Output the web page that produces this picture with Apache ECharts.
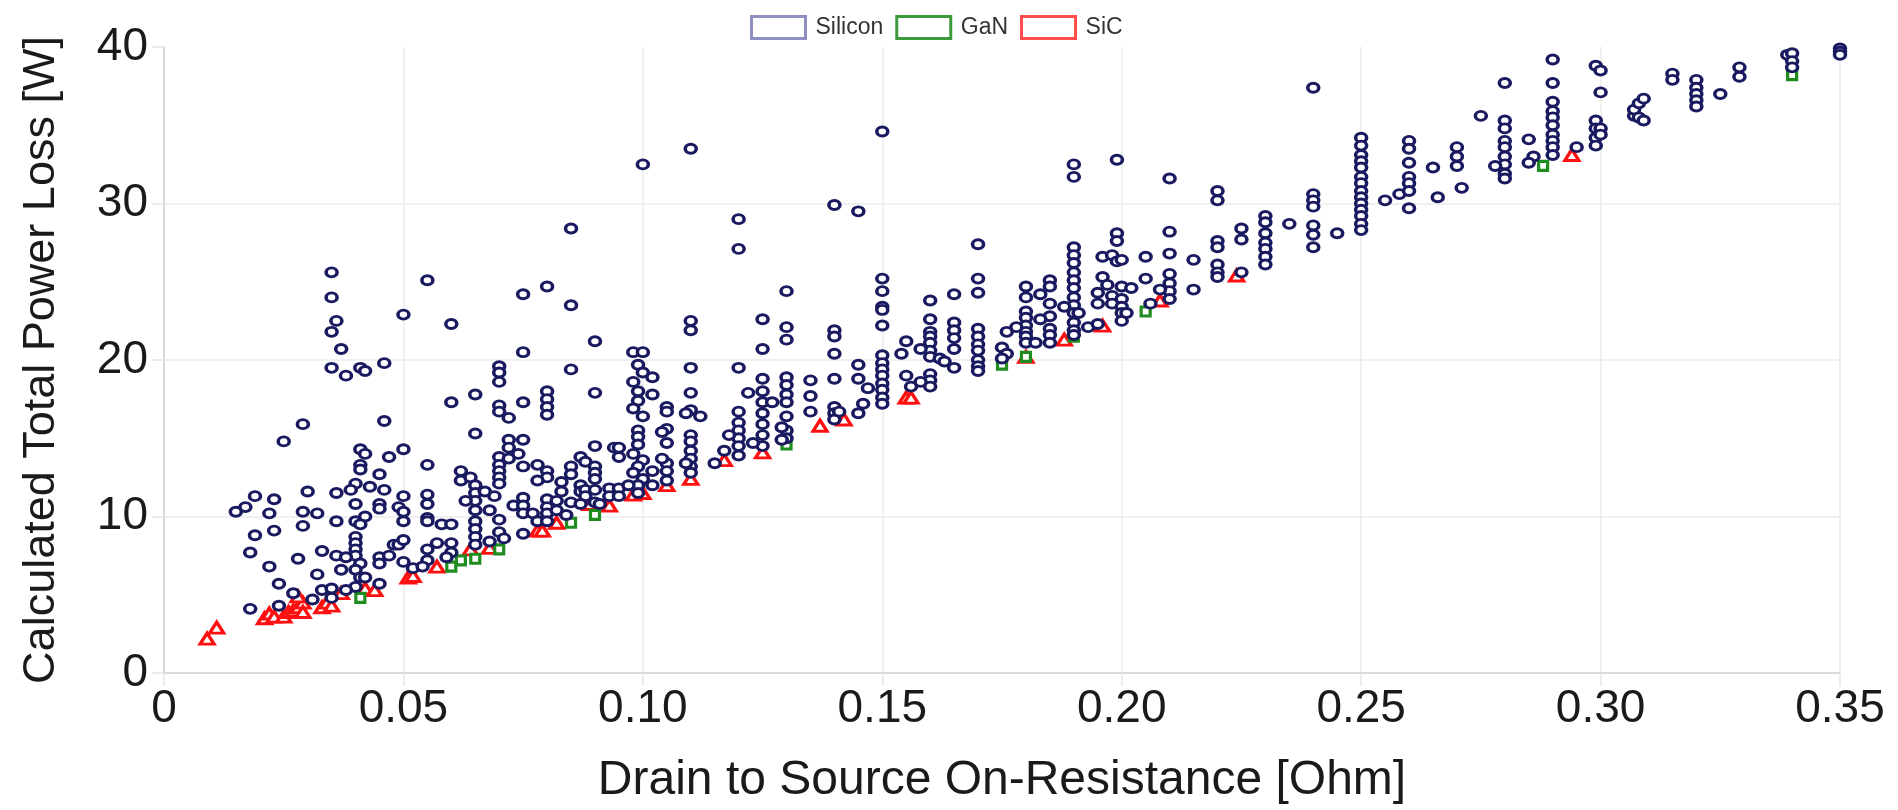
<!DOCTYPE html>
<html>
<head>
<meta charset="utf-8">
<title>Calculated Total Power Loss vs On-Resistance</title>
<script src="https://cdn.jsdelivr.net/npm/echarts@6/dist/echarts.min.js"></script>
<style>
    html, body { margin: 0; padding: 0; background: #fff; }
    #main { width: 1898px; height: 810px; }
</style>
</head>
<body>
<div id="main"></div>
<script>
// axis ticks
var xTickLabels = ['0', '0.05', '0.10', '0.15', '0.20', '0.25', '0.30', '0.35'];
var yTickLabels = ['0', '10', '20', '30', '40'];
var seriesNames = ['Silicon', 'GaN', 'SiC'];

// [Rds(on) in Ohm, power loss in W]
var siliconPoints = [
    // 0 - 0.05
    [0.035,25.6],[0.035,24.0],[0.036,22.5],[0.035,21.8],[0.037,20.7],[0.035,19.5],[0.038,19.0],[0.041,19.5],[0.042,19.3],[0.046,19.8],
    [0.029,15.9],[0.025,14.8],[0.046,16.1],[0.041,14.3],[0.042,14.0],[0.041,13.3],[0.041,13.0],[0.047,13.8],
    [0.045,12.7],[0.040,12.1],[0.043,11.9],[0.046,11.7],[0.039,11.7],[0.036,11.5],[0.030,11.6],[0.040,10.8],[0.045,10.8],[0.045,10.5],[0.049,10.6],
    [0.019,11.3],[0.017,10.6],[0.015,10.3],[0.023,11.1],[0.022,10.2],[0.029,10.3],[0.032,10.2],[0.029,9.4],[0.036,9.7],[0.040,9.7],[0.042,10.0],[0.041,9.5],
    [0.019,8.8],[0.023,9.1],[0.018,7.7],[0.022,6.8],[0.028,7.3],[0.033,7.8],[0.036,7.5],
    [0.040,8.7],[0.040,8.3],[0.040,7.9],[0.040,7.5],[0.041,7.0],[0.040,6.6],[0.041,6.1],[0.040,5.5],
    [0.038,7.4],[0.037,6.6],[0.032,6.3],[0.024,5.7],[0.027,5.1],[0.033,5.3],[0.035,4.8],[0.035,5.4],[0.031,4.7],[0.024,4.3],[0.018,4.1],
    [0.045,7.4],[0.045,7.0],[0.047,7.5],[0.048,8.2],[0.049,8.2],[0.045,5.7],[0.042,6.1],[0.038,5.3],
    // 0.05 - 0.10
    [0.085,28.4],[0.055,25.1],[0.050,22.9],[0.060,22.3],[0.075,24.2],[0.080,24.7],[0.085,23.5],[0.090,21.2],[0.075,20.5],
    [0.070,19.6],[0.070,19.2],[0.070,18.6],[0.085,19.4],[0.065,17.8],[0.060,17.3],[0.075,17.3],[0.070,17.1],[0.070,16.7],[0.072,16.3],
    [0.080,18.0],[0.080,17.5],[0.080,17.0],[0.080,16.5],[0.090,17.9],[0.065,15.3],[0.050,14.3],[0.055,13.3],
    [0.072,14.9],[0.075,14.9],[0.072,14.4],[0.070,13.8],[0.074,14.0],[0.072,13.7],[0.070,13.3],[0.070,12.9],[0.070,12.5],[0.070,12.1],
    [0.075,13.2],[0.078,13.3],[0.080,12.9],[0.080,12.5],[0.078,12.3],[0.085,13.2],[0.085,12.7],[0.087,13.8],[0.088,13.5],
    [0.090,14.5],[0.090,13.2],[0.090,12.8],[0.090,12.4],[0.094,14.4],[0.095,13.8],[0.095,14.4],[0.083,12.2],[0.083,11.6],[0.087,12.0],[0.087,11.6],
    [0.062,12.9],[0.062,12.3],[0.064,12.5],[0.065,12.0],[0.065,11.5],[0.065,11.0],[0.065,10.4],[0.065,9.7],[0.065,9.2],[0.065,8.7],[0.065,8.2],
    [0.063,11.0],[0.067,11.6],[0.068,10.4],[0.069,11.3],[0.070,9.8],[0.070,9.0],[0.071,8.6],[0.068,8.4],[0.073,10.7],
    [0.075,11.2],[0.075,10.7],[0.075,10.2],[0.075,8.9],[0.077,10.2],[0.078,9.7],[0.080,11.1],[0.080,10.6],[0.080,10.2],[0.080,9.7],
    [0.082,11.0],[0.082,10.4],[0.084,10.1],[0.085,10.9],[0.088,11.7],[0.088,11.3],[0.087,10.8],[0.090,10.9],[0.090,11.7],[0.091,10.8],
    [0.093,11.8],[0.093,11.3],[0.095,11.8],[0.095,11.3],
    [0.098,20.5],[0.100,20.5],[0.099,19.7],[0.098,18.6],[0.100,19.2],[0.099,18.0],[0.099,17.4],[0.098,16.9],[0.100,16.4],[0.099,15.5],
    [0.099,15.1],[0.099,14.6],[0.098,14.0],[0.100,13.6],[0.099,13.2],[0.098,12.8],[0.100,12.4],[0.099,12.0],[0.097,12.0],[0.099,11.5],
    [0.050,11.3],[0.050,10.3],[0.055,11.4],[0.055,10.8],[0.055,9.9],[0.055,9.7],[0.058,9.5],[0.060,9.5],[0.050,9.7],[0.050,8.5],
    [0.055,7.9],[0.057,8.3],[0.060,8.3],[0.060,7.7],[0.059,7.4],[0.055,7.2],[0.050,7.1],[0.052,6.7],[0.054,6.8],
    // 0.10 - 0.15
    [0.100,32.5],[0.110,33.5],[0.150,34.6],[0.140,29.9],[0.145,29.5],[0.120,29.0],[0.120,27.1],[0.130,24.4],
    [0.150,25.2],[0.150,24.4],[0.150,23.4],[0.150,23.2],[0.150,22.2],[0.110,22.5],[0.110,21.9],[0.125,22.6],[0.130,22.1],[0.130,21.3],
    [0.140,21.9],[0.140,21.5],[0.140,20.4],[0.125,20.7],
    [0.102,18.9],[0.102,17.8],[0.110,19.5],[0.110,17.9],[0.120,19.5],[0.145,19.7],[0.145,18.8],[0.147,18.2],
    [0.150,20.3],[0.150,19.8],[0.150,19.4],[0.150,19.0],[0.150,18.5],[0.150,18.1],[0.150,17.6],[0.150,17.2],
    [0.140,18.8],[0.135,18.7],[0.135,17.7],[0.135,16.7],
    [0.125,18.8],[0.125,18.0],[0.125,17.3],[0.125,16.6],[0.125,15.9],[0.125,15.2],[0.125,14.5],[0.127,17.3],[0.122,17.9],
    [0.130,18.9],[0.130,18.4],[0.130,17.8],[0.130,17.3],[0.130,16.4],[0.130,15.5],[0.130,15.0],[0.129,15.7],[0.129,14.9],[0.123,14.7],
    [0.120,16.7],[0.120,16.0],[0.120,15.5],[0.120,15.0],[0.120,14.5],[0.120,13.9],[0.118,15.2],[0.117,14.2],[0.115,13.4],
    [0.110,16.8],[0.112,16.4],[0.109,16.6],[0.110,15.2],[0.110,14.8],[0.110,14.2],[0.110,13.7],[0.110,13.2],[0.110,12.8],[0.109,13.4],
    [0.140,17.0],[0.140,16.6],[0.140,16.2],[0.141,16.7],[0.145,16.6],[0.146,17.2],
    [0.105,17.0],[0.105,16.7],[0.105,15.6],[0.105,14.7],[0.105,13.4],[0.105,12.9],[0.105,12.3],[0.104,15.4],[0.102,12.9],[0.102,12.0],[0.104,13.7],
    // 0.15 - 0.20
    [0.190,32.5],[0.190,31.7],[0.199,32.8],[0.170,27.4],[0.199,28.1],[0.199,27.6],[0.196,26.6],[0.198,26.7],[0.199,26.3],
    [0.190,27.2],[0.190,26.7],[0.190,26.2],[0.190,25.6],[0.190,25.1],[0.190,24.6],[0.190,24.0],[0.190,23.5],[0.190,23.0],[0.190,22.4],[0.190,21.9],[0.190,21.6],
    [0.160,23.8],[0.160,22.6],[0.160,21.8],[0.160,21.5],[0.160,21.1],[0.160,20.6],[0.160,20.2],[0.160,19.1],[0.160,18.7],[0.160,18.3],
    [0.158,20.7],[0.155,21.2],[0.154,20.4],[0.155,19.0],[0.156,18.3],[0.158,18.6],[0.162,20.1],[0.163,19.9],
    [0.165,24.2],[0.165,22.4],[0.165,21.9],[0.165,21.4],[0.165,20.7],[0.165,19.5],
    [0.170,25.2],[0.170,24.3],[0.170,22.0],[0.170,21.5],[0.170,21.0],[0.170,20.6],[0.170,20.0],[0.170,19.6],[0.170,19.3],
    [0.176,21.8],[0.175,20.8],[0.176,20.4],[0.175,20.1],
    [0.180,24.7],[0.180,24.0],[0.180,23.1],[0.180,22.7],[0.180,22.2],[0.180,21.8],[0.180,21.5],[0.180,21.1],[0.182,21.1],[0.178,22.1],
    [0.185,25.1],[0.185,24.7],[0.185,23.6],[0.185,22.8],[0.185,22.0],[0.185,21.6],[0.185,21.1],[0.183,24.2],[0.183,22.6],
    [0.188,23.4],[0.191,23.0],[0.193,22.1],[0.195,23.6],[0.195,24.3],[0.196,25.3],[0.197,24.8],
    [0.198,24.1],[0.198,23.6],[0.195,22.3],
    // 0.20 - 0.25
    [0.240,37.4],[0.210,31.6],[0.220,30.8],[0.220,30.2],
    [0.240,30.6],[0.240,30.2],[0.240,29.8],[0.240,28.6],[0.240,28.0],[0.240,27.2],[0.235,28.7],[0.245,28.1],
    [0.230,29.2],[0.230,28.8],[0.230,28.1],[0.230,27.5],[0.230,27.1],[0.230,26.6],[0.230,26.1],
    [0.225,28.4],[0.225,27.7],[0.225,25.6],[0.220,27.6],[0.220,27.2],[0.220,26.1],[0.220,25.6],[0.220,25.3],
    [0.215,26.4],[0.215,24.5],[0.210,28.2],[0.210,26.8],[0.210,25.5],[0.210,24.9],[0.210,24.4],[0.210,23.9],[0.208,24.5],
    [0.205,26.6],[0.205,25.2],[0.206,23.6],
    [0.200,26.4],[0.200,24.7],[0.200,23.9],[0.200,23.4],[0.200,23.0],[0.200,22.5],[0.202,24.6],[0.201,23.0],
    // 0.25 - 0.30
    [0.250,34.2],[0.250,33.7],[0.250,33.1],[0.250,32.7],[0.250,32.3],[0.250,31.7],[0.250,31.3],[0.250,30.8],[0.250,30.4],[0.250,30.0],
    [0.250,29.6],[0.250,29.2],[0.250,28.7],[0.250,28.3],
    [0.255,30.2],[0.258,30.6],
    [0.260,34.0],[0.260,33.5],[0.260,32.6],[0.260,31.7],[0.260,31.3],[0.260,30.8],[0.260,29.7],
    [0.265,32.3],[0.266,30.4],[0.270,33.6],[0.270,33.0],[0.270,32.4],[0.271,31.0],[0.275,35.6],
    [0.280,37.7],[0.280,35.3],[0.280,34.8],[0.280,34.0],[0.280,33.6],[0.280,33.0],[0.280,32.5],[0.280,31.9],[0.280,31.6],[0.278,32.4],
    [0.285,34.1],[0.286,33.0],[0.285,32.6],
    [0.290,39.2],[0.290,37.7],[0.290,36.5],[0.290,35.9],[0.290,35.5],[0.290,35.0],[0.290,34.4],[0.290,34.0],[0.290,33.6],[0.290,33.1],
    [0.295,33.6],[0.299,38.8],[0.300,38.5],[0.300,37.1],[0.299,35.3],[0.299,34.8],[0.299,34.2],[0.299,33.7],[0.300,34.8],[0.300,34.4],
    // 0.30 - 0.35
    [0.307,35.6],[0.307,36.0],[0.308,36.4],[0.309,36.7],[0.308,35.5],[0.309,35.3],
    [0.315,38.3],[0.315,37.9],[0.320,37.9],[0.320,37.4],[0.320,37.0],[0.320,36.6],[0.320,36.2],
    [0.325,37.0],[0.329,38.7],[0.329,38.1],[0.339,39.5],[0.340,39.6],[0.340,39.1],[0.340,38.7],[0.350,39.9],[0.350,39.7],[0.350,39.5]
];

var ganPoints = [
    [0.041,4.8],[0.060,6.8],[0.062,7.2],[0.065,7.3],[0.070,7.9],[0.085,9.6],[0.090,10.1],[0.130,14.6],
    [0.175,19.7],[0.180,20.2],[0.190,21.5],[0.205,23.1],[0.288,32.4],[0.340,38.2]
];

var sicPoints = [
    [0.009,2.2],[0.011,2.9],[0.021,3.5],[0.022,3.8],[0.023,3.6],[0.025,3.6],[0.026,3.9],[0.027,4.0],[0.028,4.2],[0.029,4.5],
    [0.028,4.9],[0.029,3.9],[0.033,4.2],[0.034,4.5],[0.035,4.3],[0.037,5.1],[0.042,5.4],[0.044,5.3],
    [0.051,6.1],[0.052,6.2],[0.057,6.8],[0.064,7.9],[0.068,8.0],[0.078,9.1],[0.079,9.1],[0.082,9.6],[0.089,10.8],[0.093,10.7],
    [0.098,11.4],[0.100,11.5],[0.105,12.0],[0.110,12.4],[0.117,13.6],[0.125,14.1],[0.137,15.8],[0.142,16.2],[0.155,17.6],[0.156,17.6],
    [0.180,20.2],[0.188,21.3],[0.196,22.2],[0.208,23.8],[0.224,25.4],[0.294,33.1]
];

var FONT = '"Helvetica Neue", Helvetica, "Liberation Sans", Arial, sans-serif';
var colSilicon = '#1a1a60';
var colGaN = '#1e8c1e';
var colSiC = '#ff1010';

var ellipse = 'path://M0 5A6 5 0 1 1 12 5A6 5 0 1 1 0 5Z';
var triangle = 'path://M6 0L12 10L0 10Z';
var square = 'path://M0 0H10V10H0Z';

var myChart = echarts.init(document.getElementById('main'));

var option = {
    backgroundColor: '#fff',
    animation: false,
    textStyle: { fontFamily: FONT },
    legend: {
        left: 745,
        top: 10,
        itemWidth: 54,
        itemHeight: 22,
        itemGap: 12,
        textStyle: { fontSize: 23, color: '#333', fontFamily: FONT, padding: [0, 0, 0, 5] },
        data: [
            { name: seriesNames[0], icon: 'rect', itemStyle: { color: '#fff', borderColor: '#8f8fc2', borderWidth: 3 } },
            { name: seriesNames[1], icon: 'rect', itemStyle: { color: '#fff', borderColor: '#3c9a3c', borderWidth: 3 } },
            { name: seriesNames[2], icon: 'rect', itemStyle: { color: '#fff', borderColor: '#ff4d4d', borderWidth: 3 } }
        ]
    },
    grid: { left: 164, right: 58, top: 47, bottom: 137 },
    xAxis: {
        type: 'value',
        min: 0,
        max: 0.35,
        interval: 0.05,
        name: 'Drain to Source On-Resistance [Ohm]',
        nameLocation: 'middle',
        nameGap: 84,
        nameTextStyle: { fontSize: 48, color: '#1a1a1a', fontFamily: FONT },
        axisLine: { show: true, lineStyle: { color: '#d2d2d2', width: 1.5 } },
        axisTick: { show: true, length: 13, lineStyle: { color: '#e6e6e6', width: 1.5 } },
        splitLine: { show: true, lineStyle: { color: '#ebebeb', width: 1.5 } },
        axisLabel: {
            fontSize: 46,
            color: '#1a1a1a',
            margin: 13,
            formatter: function (v) { return xTickLabels[Math.round(v / 0.05)]; }
        }
    },
    yAxis: {
        type: 'value',
        min: 0,
        max: 40,
        interval: 10,
        name: 'Calculated Total Power Loss [W]',
        nameLocation: 'middle',
        nameRotate: 90,
        nameGap: 100,
        nameTextStyle: { fontSize: 45, color: '#1a1a1a', fontFamily: FONT },
        axisLine: { show: true, lineStyle: { color: '#d2d2d2', width: 1.5 } },
        axisTick: { show: true, length: 12, lineStyle: { color: '#e6e6e6', width: 1.5 } },
        splitLine: { show: true, showMaxLine: false, lineStyle: { color: '#ebebeb', width: 1.5 } },
        axisLabel: {
            fontSize: 46,
            color: '#1a1a1a',
            margin: 16,
            formatter: function (v) { return yTickLabels[Math.round(v / 10)]; }
        }
    },
    series: [
        {
            name: seriesNames[2],
            type: 'scatter',
            symbol: triangle,
            symbolSize: [14, 11],
            itemStyle: { color: '#fff', borderColor: colSiC, borderWidth: 3.2, opacity: 1 },
            data: sicPoints
        },
        {
            name: seriesNames[1],
            type: 'scatter',
            symbol: square,
            symbolSize: [9, 9],
            itemStyle: { color: '#fff', borderColor: colGaN, borderWidth: 3.2, opacity: 1 },
            data: ganPoints
        },
        {
            name: seriesNames[0],
            type: 'scatter',
            symbol: ellipse,
            symbolSize: [11, 9],
            itemStyle: { color: '#fff', borderColor: colSilicon, borderWidth: 3.2, opacity: 1 },
            data: siliconPoints
        }
    ]
};
myChart.setOption(option);
</script>
</body>
</html>
